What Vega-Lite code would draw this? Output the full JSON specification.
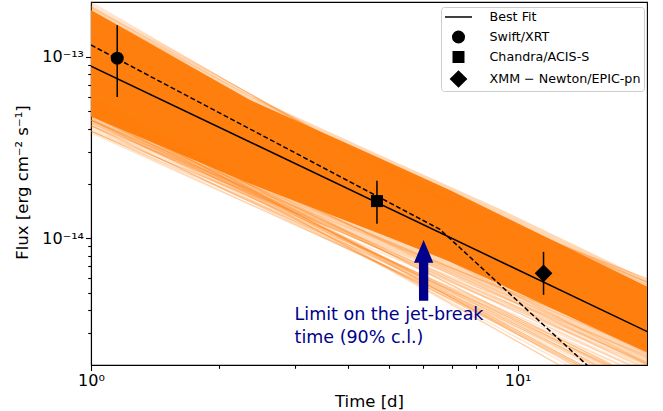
{
  "$schema": "https://vega.github.io/schema/vega-lite/v6.json",
  "width": 556,
  "height": 363,
  "autosize": {"type": "none"},
  "padding": {"left": 91, "top": 2, "right": 16, "bottom": 46},
  "background": "white",
  "config": {
    "view": {"stroke": "black", "strokeWidth": 1.1},
    "font": "DejaVu Sans",
    "axis": {
      "domainColor": "black", "domainWidth": 1.1, "tickColor": "black", "tickWidth": 1.1,
      "labelColor": "black", "titleColor": "black", "labelFont": "DejaVu Sans", "titleFont": "DejaVu Sans",
      "titleFontWeight": "normal", "grid": false, "labelFontSize": 16, "titleFontSize": 16.5
    }
  },
  "datasets": {
    "halo": [
      {"t": 1, "top": 1.905e-13, "bot": 4.266e-14},
      {"t": 2.36, "top": 6.095e-14, "bot": 1.738e-14},
      {"t": 4.685, "top": 2.917e-14, "bot": 9.12e-15},
      {"t": 6.947, "top": 1.928e-14, "bot": 6.31e-15},
      {"t": 9.2, "top": 1.429e-14, "bot": 4.677e-15},
      {"t": 20.12, "top": 5.9e-15, "bot": 1.995e-15},
      {"t": 21, "top": 5.64e-15, "bot": 1.905e-15}
    ],
    "band": [
      {"t": 1, "top": 1.807e-13, "bot": 4.677e-14},
      {"t": 2.36, "top": 5.768e-14, "bot": 1.995e-14},
      {"t": 4.685, "top": 2.799e-14, "bot": 1.072e-14},
      {"t": 6.947, "top": 1.837e-14, "bot": 7.413e-15},
      {"t": 9.2, "top": 1.33e-14, "bot": 5.495e-15},
      {"t": 20.12, "top": 5.4e-15, "bot": 2.344e-15},
      {"t": 21, "top": 5.16e-15, "bot": 2.239e-15}
    ],
    "samples": [
      {"t1": 1, "f1": 5.012e-14, "t2": 21, "f2": 1.380e-15},
      {"t1": 1, "f1": 4.786e-14, "t2": 21, "f2": 1.443e-15},
      {"t1": 1, "f1": 4.571e-14, "t2": 21, "f2": 1.510e-15},
      {"t1": 1, "f1": 4.365e-14, "t2": 21, "f2": 1.533e-15},
      {"t1": 1, "f1": 4.169e-14, "t2": 21, "f2": 1.336e-15},
      {"t1": 1, "f1": 4.074e-14, "t2": 21, "f2": 1.521e-15},
      {"t1": 1, "f1": 4.467e-14, "t2": 21, "f2": 1.827e-15},
      {"t1": 1, "f1": 4.898e-14, "t2": 21, "f2": 1.194e-15},
      {"t1": 1, "f1": 5.248e-14, "t2": 21, "f2": 1.204e-15},
      {"t1": 1, "f1": 5.495e-14, "t2": 21, "f2": 1.186e-15},
      {"t1": 1, "f1": 4.266e-14, "t2": 21, "f2": 1.911e-15},
      {"t1": 1, "f1": 4.677e-14, "t2": 21, "f2": 1.746e-15},
      {"t1": 1, "f1": 3.890e-14, "t2": 21, "f2": 1.640e-15},
      {"t1": 1, "f1": 5.129e-14, "t2": 21, "f2": 1.328e-15},
      {"t1": 1, "f1": 5.754e-14, "t2": 21, "f2": 1.133e-15},
      {"t1": 1, "f1": 6.026e-14, "t2": 21, "f2": 1.116e-15},
      {"t1": 1, "f1": 3.981e-14, "t2": 21, "f2": 1.896e-15},
      {"t1": 1, "f1": 4.467e-14, "t2": 21, "f2": 1.389e-15},
      {"t1": 1, "f1": 5.370e-14, "t2": 21, "f2": 1.524e-15},
      {"t1": 1, "f1": 3.802e-14, "t2": 21, "f2": 1.508e-15},
      {"t1": 1, "f1": 5.888e-14, "t2": 21, "f2": 1.776e-15},
      {"t1": 1, "f1": 5.888e-14, "t2": 21, "f2": 1.435e-15},
      {"t1": 1, "f1": 5.888e-14, "t2": 21, "f2": 1.196e-15},
      {"t1": 1, "f1": 5.888e-14, "t2": 21, "f2": 9.96e-16},
      {"t1": 1, "f1": 5.495e-14, "t2": 21, "f2": 1.930e-15},
      {"t1": 1, "f1": 5.495e-14, "t2": 21, "f2": 1.513e-15},
      {"t1": 1, "f1": 5.495e-14, "t2": 21, "f2": 1.222e-15},
      {"t1": 1, "f1": 5.495e-14, "t2": 21, "f2": 1.018e-15},
      {"t1": 1, "f1": 5.129e-14, "t2": 21, "f2": 2.097e-15},
      {"t1": 1, "f1": 5.129e-14, "t2": 21, "f2": 1.695e-15},
      {"t1": 1, "f1": 5.129e-14, "t2": 21, "f2": 1.370e-15},
      {"t1": 1, "f1": 5.129e-14, "t2": 21, "f2": 1.107e-15},
      {"t1": 1, "f1": 4.786e-14, "t2": 21, "f2": 2.279e-15},
      {"t1": 1, "f1": 4.786e-14, "t2": 21, "f2": 1.842e-15},
      {"t1": 1, "f1": 4.786e-14, "t2": 21, "f2": 1.488e-15},
      {"t1": 1, "f1": 4.786e-14, "t2": 21, "f2": 1.203e-15},
      {"t1": 1, "f1": 4.467e-14, "t2": 21, "f2": 2.403e-15},
      {"t1": 1, "f1": 4.467e-14, "t2": 21, "f2": 1.941e-15},
      {"t1": 1, "f1": 4.467e-14, "t2": 21, "f2": 1.569e-15},
      {"t1": 1, "f1": 4.467e-14, "t2": 21, "f2": 1.268e-15},
      {"t1": 1, "f1": 4.169e-14, "t2": 21, "f2": 2.457e-15},
      {"t1": 1, "f1": 4.169e-14, "t2": 21, "f2": 1.985e-15},
      {"t1": 1, "f1": 4.169e-14, "t2": 21, "f2": 1.654e-15},
      {"t1": 1, "f1": 4.169e-14, "t2": 21, "f2": 1.378e-15},
      {"t1": 1, "f1": 3.890e-14, "t2": 21, "f2": 2.157e-15},
      {"t1": 1, "f1": 3.890e-14, "t2": 21, "f2": 1.743e-15},
      {"t1": 1, "f1": 3.890e-14, "t2": 21, "f2": 1.452e-15},
      {"t1": 1, "f1": 1.950e-13, "t2": 21, "f2": 3.400e-15},
      {"t1": 1, "f1": 1.905e-13, "t2": 21, "f2": 3.640e-15},
      {"t1": 1, "f1": 1.862e-13, "t2": 21, "f2": 3.781e-15},
      {"t1": 1, "f1": 1.995e-13, "t2": 21, "f2": 3.175e-15},
      {"t1": 1, "f1": 1.778e-13, "t2": 21, "f2": 3.955e-15},
      {"t1": 1, "f1": 1.000e-13, "t2": 21, "f2": 5.716e-15},
      {"t1": 1, "f1": 1.122e-13, "t2": 21, "f2": 5.508e-15},
      {"t1": 1, "f1": 8.913e-14, "t2": 21, "f2": 5.754e-15},
      {"t1": 1, "f1": 1.259e-13, "t2": 21, "f2": 5.471e-15},
      {"t1": 1, "f1": 1.047e-13, "t2": 21, "f2": 5.463e-15},
      {"t1": 1, "f1": 1.413e-13, "t2": 21, "f2": 5.272e-15},
      {"t1": 1, "f1": 7.079e-14, "t2": 21, "f2": 2.202e-15},
      {"t1": 1, "f1": 7.943e-14, "t2": 21, "f2": 1.936e-15}
    ],
    "fit": [
      {"t": 1, "f": 8.872e-14},
      {"t": 21, "f": 2.913e-15}
    ],
    "broken": [
      {"t": 1, "f": 1.159e-13},
      {"t": 6.577, "f": 1.117e-14},
      {"t": 21, "f": 9.0e-16}
    ],
    "obs": [
      {"inst": "Swift/XRT", "t": 1.152, "f": 9.8e-14, "lo": 6.0e-14, "hi": 1.49e-13},
      {"inst": "Chandra/ACIS-S", "t": 4.68, "f": 1.60e-14, "lo": 1.20e-14, "hi": 2.07e-14},
      {"inst": "XMM − Newton/EPIC-pn", "t": 11.5, "f": 6.4e-15, "lo": 4.87e-15, "hi": 8.4e-15}
    ],
    "arrow": [
      {"t": 6.02, "f": 6.64e-15}
    ],
    "note": [
      {"t": 3.0, "f": 3.54e-15, "label": "Limit on the jet-break\ntime (90% c.l.)"}
    ]
  },
  "layer": [
    {
      "data": {"name": "halo"},
      "mark": {"type": "area", "color": "#ff7f0e", "opacity": 0.3, "clip": true},
      "encoding": {
        "x": {
          "field": "t", "type": "quantitative",
          "scale": {"type": "log", "domain": [1, 20.1], "nice": false},
          "axis": {
            "title": "Time [d]",
            "values": [1, 2, 3, 4, 5, 6, 7, 8, 9, 10],
            "labelExpr": "datum.value == 1 ? '10⁰' : (datum.value == 10 ? '10¹' : '')",
            "tickSize": {"condition": {"test": "datum.value == 1 || datum.value == 10", "value": 5.5}, "value": 3.3},
            "labelPadding": 2,
            "labelFlush": false,
            "labelOverlap": false,
            "titleX": 278,
            "titleY": 36,
            "titleAlign": "center",
            "titleBaseline": "middle"
          }
        },
        "y": {
          "field": "top", "type": "quantitative",
          "scale": {"type": "log", "domain": [2e-15, 2e-13], "nice": false},
          "axis": {
            "title": "Flux [erg cm⁻² s⁻¹]",
            "values": [3e-15, 4e-15, 5e-15, 6e-15, 7e-15, 8e-15, 9e-15, 1e-14, 2e-14, 3e-14, 4e-14, 5e-14, 6e-14, 7e-14, 8e-14, 9e-14, 1e-13],
            "labelExpr": "(datum.value > 0.99e-13 && datum.value < 1.01e-13) ? '10⁻¹³' : ((datum.value > 0.99e-14 && datum.value < 1.01e-14) ? '10⁻¹⁴' : '')",
            "tickSize": {"condition": {"test": "(datum.value > 0.99e-13 && datum.value < 1.01e-13) || (datum.value > 0.99e-14 && datum.value < 1.01e-14)", "value": 5.5}, "value": 3.3},
            "labelPadding": 2,
            "labelFlush": false,
            "labelOverlap": false,
            "titleX": -69,
            "titleY": 180,
            "titleAngle": 270,
            "titleAlign": "center",
            "titleBaseline": "middle"
          }
        },
        "y2": {"field": "bot"}
      }
    },
    {
      "data": {"name": "band"},
      "mark": {"type": "area", "color": "#ff7f0e", "opacity": 1, "clip": true},
      "encoding": {
        "x": {"field": "t", "type": "quantitative", "scale": {"type": "log", "domain": [1, 20.1], "nice": false}},
        "y": {"field": "top", "type": "quantitative", "scale": {"type": "log", "domain": [2e-15, 2e-13], "nice": false}},
        "y2": {"field": "bot"}
      }
    },
    {
      "data": {"name": "samples"},
      "mark": {"type": "rule", "color": "#ff7f0e", "opacity": 0.22, "strokeWidth": 1.2, "clip": true},
      "encoding": {
        "x": {"field": "t1", "type": "quantitative", "scale": {"type": "log", "domain": [1, 20.1], "nice": false}},
        "y": {"field": "f1", "type": "quantitative", "scale": {"type": "log", "domain": [2e-15, 2e-13], "nice": false}},
        "x2": {"field": "t2"},
        "y2": {"field": "f2"}
      }
    },
    {
      "data": {"name": "fit"},
      "mark": {"type": "line", "color": "black", "strokeWidth": 1.5, "clip": true},
      "encoding": {
        "x": {"field": "t", "type": "quantitative", "scale": {"type": "log", "domain": [1, 20.1], "nice": false}},
        "y": {"field": "f", "type": "quantitative", "scale": {"type": "log", "domain": [2e-15, 2e-13], "nice": false}}
      }
    },
    {
      "data": {"name": "broken"},
      "mark": {"type": "line", "color": "black", "strokeWidth": 1.5, "strokeDash": [5, 2.5], "clip": true},
      "encoding": {
        "x": {"field": "t", "type": "quantitative", "scale": {"type": "log", "domain": [1, 20.1], "nice": false}},
        "y": {"field": "f", "type": "quantitative", "scale": {"type": "log", "domain": [2e-15, 2e-13], "nice": false}}
      }
    },
    {
      "data": {"name": "obs"},
      "mark": {"type": "rule", "color": "black", "strokeWidth": 1.5, "clip": true},
      "encoding": {
        "x": {"field": "t", "type": "quantitative", "scale": {"type": "log", "domain": [1, 20.1], "nice": false}},
        "y": {"field": "lo", "type": "quantitative", "scale": {"type": "log", "domain": [2e-15, 2e-13], "nice": false}},
        "y2": {"field": "hi"}
      }
    },
    {
      "data": {"name": "obs"},
      "mark": {"type": "point", "filled": true, "color": "black", "opacity": 1, "size": 170, "clip": true},
      "encoding": {
        "x": {"field": "t", "type": "quantitative", "scale": {"type": "log", "domain": [1, 20.1], "nice": false}},
        "y": {"field": "f", "type": "quantitative", "scale": {"type": "log", "domain": [2e-15, 2e-13], "nice": false}},
        "shape": {
          "field": "inst", "type": "nominal",
          "scale": {
            "domain": ["Best Fit", "Swift/XRT", "Chandra/ACIS-S", "XMM − Newton/EPIC-pn"],
            "range": ["M -2.07 -0.115 L 2.07 -0.115 L 2.07 0.115 L -2.07 0.115 Z", "circle", "M -0.92 -0.92 L 0.92 -0.92 L 0.92 0.92 L -0.92 0.92 Z", "M -1.36 0 L 0 -1.36 L 1.36 0 L 0 1.36 Z"]
          },
          "legend": {
            "title": null,
            "orient": "none",
            "legendX": 350,
            "legendY": 5,
            "padding": 3,
            "symbolOffset": 7.5,
            "labelOffset": 24,
            "rowPadding": 6,
            "symbolSize": 170,
            "symbolStrokeWidth": 0,
            "labelFont": "DejaVu Sans",
            "labelFontSize": 12.7,
            "labelColor": "black",
            "labelLimit": 300,
            "strokeColor": "#cccccc",
            "fillColor": "rgba(255,255,255,0.8)",
            "cornerRadius": 3
          }
        }
      }
    },
    {
      "data": {"name": "arrow"},
      "mark": {"type": "point", "filled": true, "color": "#00008b", "opacity": 1, "size": 3684, "shape": "M 0 -1 L 0.318 -0.252 L 0.153 -0.252 L 0.153 1 L -0.153 1 L -0.153 -0.252 L -0.318 -0.252 Z"},
      "encoding": {
        "x": {"field": "t", "type": "quantitative", "scale": {"type": "log", "domain": [1, 20.1], "nice": false}},
        "y": {"field": "f", "type": "quantitative", "scale": {"type": "log", "domain": [2e-15, 2e-13], "nice": false}}
      }
    },
    {
      "data": {"name": "note"},
      "mark": {"type": "text", "color": "#00008b", "font": "DejaVu Sans", "fontSize": 17.5, "align": "left", "baseline": "alphabetic", "lineBreak": "\n", "lineHeight": 23},
      "encoding": {
        "x": {"field": "t", "type": "quantitative", "scale": {"type": "log", "domain": [1, 20.1], "nice": false}},
        "y": {"field": "f", "type": "quantitative", "scale": {"type": "log", "domain": [2e-15, 2e-13], "nice": false}},
        "text": {"field": "label"}
      }
    }
  ]
}
